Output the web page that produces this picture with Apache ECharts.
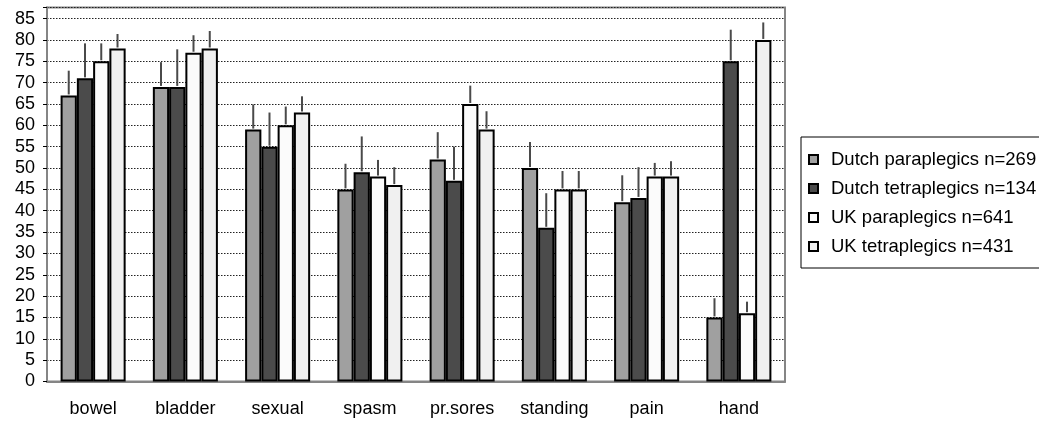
<!DOCTYPE html>
<html>
<head>
<meta charset="utf-8">
<script src="https://cdn.jsdelivr.net/npm/echarts@6/dist/echarts.min.js"></script>
<style>html,body{margin:0;padding:0;background:#fff;}#c{width:1039px;height:423px;}</style>
</head>
<body>
<div id="c"></div>
<script>
var categories = ['bowel','bladder','sexual','spasm','pr.sores','standing','pain','hand'];
var seriesNames = ['Dutch paraplegics n=269','Dutch tetraplegics n=134','UK paraplegics n=641','UK tetraplegics n=431'];
var dutchPara  = [67, 69, 59, 45, 52, 50, 42, 15];
var dutchTetra = [71, 69, 55, 49, 47, 36, 43, 75];
var ukPara     = [75, 77, 60, 48, 65, 45, 48, 16];
var ukTetra    = [78, 78, 63, 46, 59, 45, 48, 80];
// upper ends of the error bars
var dutchParaErr  = [72.8, 74.8, 64.9, 51.0, 58.4, 56.1, 48.3, 19.5];
var dutchTetraErr = [79.2, 77.8, 63.0, 57.4, 55.0, 44.1, 50.2, 82.4];
var ukParaErr     = [79.2, 81.1, 64.4, 51.9, 69.3, 49.3, 51.2, 18.7];
var ukTetraErr    = [81.4, 82.1, 66.8, 50.2, 63.3, 49.3, 51.6, 84.1];
var yTicks = [0,5,10,15,20,25,30,35,40,45,50,55,60,65,70,75,80,85];

var values = [dutchPara, dutchTetra, ukPara, ukTetra];
var errs = [dutchParaErr, dutchTetraErr, ukParaErr, ukTetraErr];
var colors = ['#a0a0a0', '#4b4b4b', '#fbfbfb', '#f0f0f0'];
var CAT_GAP = 0.295;
var FONT = '"Liberation Sans", Arial, sans-serif';

var series = [];
values.forEach(function(v, s){
  series.push({
    name: seriesNames[s], type: 'bar', data: v,
    barGap: '0%', barCategoryGap: (CAT_GAP*100)+'%',
    itemStyle: {color: colors[s], borderColor: '#000', borderWidth: 2},
    emphasis: {disabled: true}
  });
});
var errData = [];
errs.forEach(function(e, s){
  e.forEach(function(top, i){ errData.push([i, top, values[s][i], s]); });
});
series.push({
  type: 'custom', name: 'err', data: errData, z: 5, silent: true,
  renderItem: function(params, api){
    var i = api.value(0), top = api.value(1), base = api.value(2), s = api.value(3);
    var p0 = api.coord([i, base]);
    var p1 = api.coord([i, top]);
    var band = api.size([1, 0])[0];
    var bw = band * (1 - CAT_GAP) / 4;
    var x = p0[0] + (s - 1.5) * bw;
    return {type: 'line', shape: {x1: x, y1: p0[1] - 1, x2: x, y2: p1[1]},
            style: {stroke: '#4a4a4a', lineWidth: 2}};
  }
});

var chart = echarts.init(document.getElementById('c'), null, {renderer: 'canvas'});
chart.setOption({
  animation: false,
  textStyle: {fontFamily: FONT},
  grid: {left: 47, right: 254, top: 7.5, bottom: 41.5, show: true, borderColor: '#858585', borderWidth: 2, backgroundColor: '#fff'},
  legend: {
    data: seriesNames, orient: 'vertical', left: 801, top: 137,
    itemWidth: 9, itemHeight: 9, itemGap: 10,
    padding: [13, 8, 12, 7],
    borderColor: '#000', borderWidth: 1,
    icon: 'rect',
    itemStyle: {borderColor: '#000', borderWidth: 2},
    textStyle: {fontFamily: FONT, fontSize: 18.5, color: '#000', lineHeight: 18, padding: [0, 0, 0, 8]},
    selectedMode: false
  },
  xAxis: {
    type: 'category', data: categories,
    axisLine: {lineStyle: {color: '#858585', width: 2}},
    axisTick: {show: false},
    axisLabel: {fontFamily: FONT, fontSize: 18, color: '#000', margin: 19}
  },
  yAxis: {
    type: 'value', min: 0, max: 87.6, interval: 5,
    axisLine: {show: true, lineStyle: {color: '#858585', width: 2}},
    axisTick: {show: true, length: 4, lineStyle: {color: '#000'}},
    axisLabel: {fontFamily: FONT, fontSize: 18, color: '#000', margin: 12,
      formatter: function(v){ return yTicks.indexOf(v) >= 0 ? String(v) : ''; }},
    splitLine: {show: true, lineStyle: {color: '#222', width: 1, type: [1.5, 1.5]}}
  },
  series: series
});
</script>
</body>
</html>
